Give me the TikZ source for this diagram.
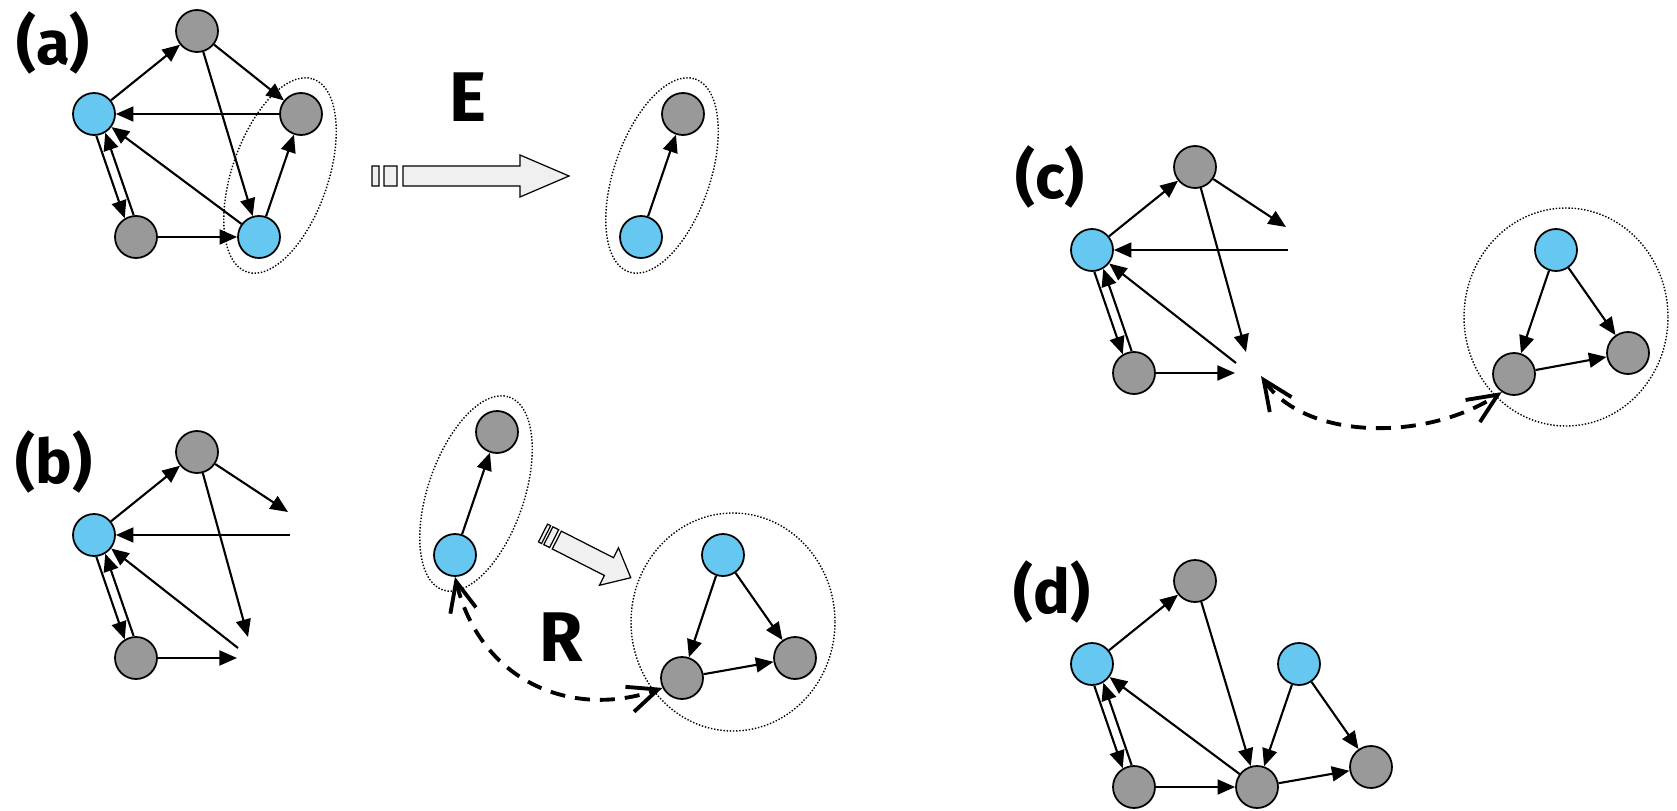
\documentclass[tikz,border=0pt]{standalone}
\usepackage{fontspec}
\setmainfont{Fira Sans}
\usetikzlibrary{arrows.meta, calc}
\definecolor{nodeblue}{RGB}{102,199,240}
\definecolor{nodegray}{RGB}{153,153,153}
\definecolor{arrowgray}{RGB}{240,240,240}

\begin{document}
\begin{tikzpicture}[x=0.02cm, y=-0.02cm, line width=1.2pt, >={Triangle[length=10pt, width=8.5pt]}]
    % Styles
    \tikzstyle{bluenode} = [circle, draw, line width=1pt, fill=nodeblue, minimum size=0.84cm, inner sep=0pt]
    \tikzstyle{graynode} = [bluenode, fill=nodegray]
    \tikzstyle{grp} = [line width=0.8pt, dash pattern=on 0.8pt off 1pt]
    \tikzstyle{relink} = [line width=2.2pt, dash pattern=on 0.3cm off 0.2cm,
                          arrows={Straight Barb[length=17pt, width=15pt]-Straight Barb[length=17pt, width=15pt]}]
    \tikzstyle{panel} = [font=\bfseries\fontsize{35}{35}\selectfont]
    \tikzstyle{opname} = [font=\bfseries\fontsize{40}{40}\selectfont]
    \tikzstyle{fatarrow} = [draw, line width=0.7pt, fill=arrowgray]

    \useasboundingbox (0,0) rectangle (1677,811);

    % (a) full graph
    \node[panel] (tagA) at (53,43) {(a)};
    \node[graynode] (aTop) at (197,31) {};
    \node[bluenode] (aSrc) at (94,114) {};
    \node[graynode] (aRight) at (301,114) {};
    \node[graynode] (aLow) at (136,237) {};
    \node[bluenode] (aSeed) at (259,237) {};
    \draw[->] (aSrc) -- (aTop);
    \draw[->] (aTop) -- (aRight);
    \draw[->] (aRight) -- (aSrc);
    \draw[->] (aTop) -- (aSeed);
    \draw[->] (aSeed) -- (aSrc);
    \draw[->] (aSeed) -- (aRight);
    \draw[->] (aLow) -- (aSeed);
    \draw[->] (aSrc.-84) -- (aLow.121);
    \draw[->] (aLow.96) -- (aSrc.-59);
    \coordinate (aPair) at ($(aRight)!0.5!(aSeed)$);
    \draw[grp, rotate around={71:(aPair)}] (aPair) ellipse (102 and 48);

    % E step
    \node[opname] (opE) at (468,97) {E};
    \begin{scope}[shift={(372,176)}]
        \filldraw[fatarrow] (0,-10) rectangle (7,10) (12,-10) rectangle (25,10)
            (31,-10) -- (148,-10) -- (148,-21) -- (197,0) -- (148,21) -- (148,10) -- (31,10) -- cycle;
    \end{scope}
    \node[graynode] (eTop) at (683,114) {};
    \node[bluenode] (eSeed) at (641,237) {};
    \draw[->] (eSeed) -- (eTop);
    \coordinate (ePair) at ($(eTop)!0.5!(eSeed)$);
    \draw[grp, rotate around={71:(ePair)}] (ePair) ellipse (102 and 48);

    % (b) remaining graph
    \node[panel] (tagB) at (54,462) {(b)};
    \node[graynode] (bTop) at (197,452) {};
    \node[bluenode] (bSrc) at (94,535) {};
    \node[graynode] (bLow) at (136,658) {};
    \coordinate (bOut1) at (288,512);
    \coordinate (bOut2) at (290,535);
    \coordinate (bOut3) at (248,637);
    \coordinate (bOut4) at (238,648);
    \coordinate (bOut5) at (237,658);
    \draw[->] (bSrc) -- (bTop);
    \draw[->] (bTop) -- (bOut1);
    \draw[->] (bOut2) -- (bSrc);
    \draw[->] (bTop) -- (bOut3);
    \draw[->] (bOut4) -- (bSrc);
    \draw[->] (bLow) -- (bOut5);
    \draw[->] (bSrc.-84) -- (bLow.121);
    \draw[->] (bLow.96) -- (bSrc.-59);

    % R step
    \node[graynode] (pTop) at (497,432) {};
    \node[bluenode] (pSeed) at (455,555) {};
    \draw[->] (pSeed) -- (pTop);
    \coordinate (pPair) at ($(pTop)!0.5!(pSeed)$);
    \draw[grp, rotate around={71:(pPair)}] (pPair) ellipse (102 and 48);
    \begin{scope}[shift={(543,533)}, rotate=-27, xscale=0.5]
        \filldraw[fatarrow] (0,-10) rectangle (7,10) (12,-10) rectangle (25,10)
            (31,-10) -- (148,-10) -- (148,-21) -- (197,0) -- (148,21) -- (148,10) -- (31,10) -- cycle;
    \end{scope}
    \node[opname] (opR) at (561,637) {R};
    \node[bluenode] (rSeed) at (723,555) {};
    \node[graynode] (rLow) at (682,678) {};
    \node[graynode] (rRight) at (795,658) {};
    \draw[->] (rSeed) -- (rLow);
    \draw[->] (rSeed) -- (rRight);
    \draw[->] (rLow) -- (rRight);
    \coordinate (rRing) at (733,622);
    \draw[grp] (rRing) ellipse (102 and 109);
    \draw[relink] (pSeed.south) .. controls (480,680) and (570,720) .. (rLow.207);

    % (c) graph with the new part
    \node[panel] (tagC) at (1050,177) {(c)};
    \node[graynode] (cTop) at (1195,167) {};
    \node[bluenode] (cSrc) at (1092,250) {};
    \node[graynode] (cLow) at (1134,373) {};
    \coordinate (cOut1) at (1286,227);
    \coordinate (cOut2) at (1288,250);
    \coordinate (cOut3) at (1246,352);
    \coordinate (cOut4) at (1236,363);
    \coordinate (cOut5) at (1235,373);
    \coordinate (cHook) at (1261,376);
    \draw[->] (cSrc) -- (cTop);
    \draw[->] (cTop) -- (cOut1);
    \draw[->] (cOut2) -- (cSrc);
    \draw[->] (cTop) -- (cOut3);
    \draw[->] (cOut4) -- (cSrc);
    \draw[->] (cLow) -- (cOut5);
    \draw[->] (cSrc.-84) -- (cLow.121);
    \draw[->] (cLow.96) -- (cSrc.-59);
    \node[bluenode] (tSeed) at (1556,250) {};
    \node[graynode] (tLow) at (1514,374) {};
    \node[graynode] (tRight) at (1628,353) {};
    \draw[->] (tSeed) -- (tLow);
    \draw[->] (tSeed) -- (tRight);
    \draw[->] (tLow) -- (tRight);
    \coordinate (tRing) at (1566,317);
    \draw[grp] (tRing) ellipse (102 and 109);
    \draw[relink] (cHook) .. controls (1305,440) and (1425,442) .. (tLow.236);

    % (d) merged graph
    \node[panel] (tagD) at (1052,592) {(d)};
    \node[graynode] (dTop) at (1195,581) {};
    \node[bluenode] (dSrc) at (1092,664) {};
    \node[graynode] (dLow) at (1134,787) {};
    \node[graynode] (dMid) at (1257,787) {};
    \node[bluenode] (dSeed) at (1299,664) {};
    \node[graynode] (dRight) at (1371,767) {};
    \draw[->] (dSrc) -- (dTop);
    \draw[->] (dTop) -- (dMid);
    \draw[->] (dMid) -- (dSrc);
    \draw[->] (dLow) -- (dMid);
    \draw[->] (dSrc.-84) -- (dLow.121);
    \draw[->] (dLow.96) -- (dSrc.-59);
    \draw[->] (dSeed) -- (dMid);
    \draw[->] (dSeed) -- (dRight);
    \draw[->] (dMid) -- (dRight);
\end{tikzpicture}
\end{document}
